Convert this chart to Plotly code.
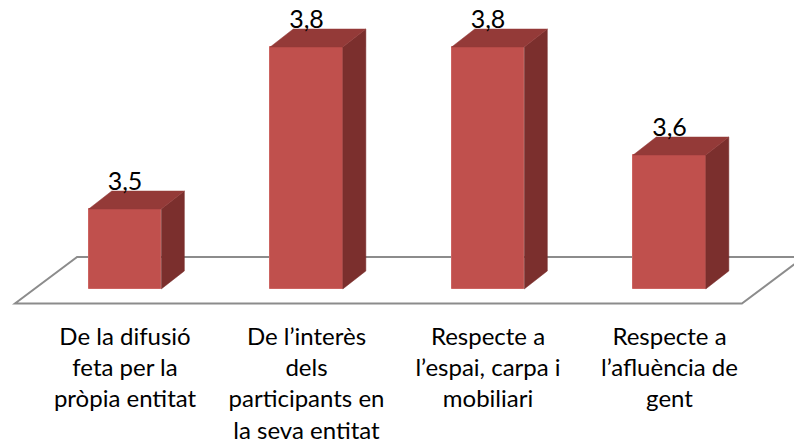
import plotly.graph_objects as go

categories = [
    "De la difusió<br>feta per la<br>pròpia entitat",
    "De l’interès<br>dels<br>participants en<br>la seva entitat",
    "Respecte a<br>l’espai, carpa i<br>mobiliari",
    "Respecte a<br>l’afluència de<br>gent",
]
values = [3.5, 3.8, 3.8, 3.6]
value_labels = ["3,5", "3,8", "3,8", "3,6"]

# geometry / style constants (not data)
BASE = 3.352      # value where bars start (axis floor)
HALF = 0.2        # half bar width in category units
DX = 0.127        # 3D depth offset, x (category units)
DY = 0.0333       # 3D depth offset, y (value units)
LABEL_OFF = 0.046
FRONT = "#C0504D"
TOP = "#943A38"
SIDE = "#7B2F2D"
FLOOR = "#8C8C8C"
FONT = "Lato"

xpos = list(range(len(values)))

fig = go.Figure()

# front faces
fig.add_trace(go.Bar(
    x=xpos, y=[v - BASE for v in values], base=BASE, width=2 * HALF,
    marker=dict(color=FRONT, line=dict(color="#CC6461", width=1)),
    hoverinfo="skip", showlegend=False,
))

# side and top faces computed from values
for i, v in enumerate(values):
    x1 = i + HALF
    x0 = i - HALF
    fig.add_trace(go.Scatter(
        x=[x1, x1 + DX, x1 + DX, x1, x1],
        y=[BASE, BASE + DY, v + DY, v, BASE],
        fill="toself", fillcolor=SIDE, mode="lines",
        line=dict(color=SIDE, width=0.5), hoverinfo="skip", showlegend=False,
    ))
    fig.add_trace(go.Scatter(
        x=[x0, x1, x1 + DX, x0 + DX, x0],
        y=[v, v, v + DY, v + DY, v],
        fill="toself", fillcolor=TOP, mode="lines",
        line=dict(color=TOP, width=0.5), hoverinfo="skip", showlegend=False,
    ))

# value labels
fig.add_trace(go.Scatter(
    x=xpos, y=[v + LABEL_OFF for v in values], text=value_labels,
    mode="text", textposition="middle center",
    textfont=dict(family=FONT, size=25, color="#000000"),
    hoverinfo="skip", showlegend=False, cliponaxis=False,
))

# floor (parallelogram) drawn below the bars
FL_FRONT_Y = 3.325
FL_BACK_Y = 3.411
FL_X0 = -0.606
FL_X1 = 3.399
FL_SHIFT = 0.342
fig.add_shape(
    type="path", layer="below", xref="x", yref="y",
    path=(f"M {FL_X0} {FL_FRONT_Y} L {FL_X1} {FL_FRONT_Y} "
          f"L {FL_X1 + FL_SHIFT} {FL_BACK_Y} L {FL_X0 + FL_SHIFT} {FL_BACK_Y} Z"),
    line=dict(color=FLOOR, width=2), fillcolor="rgba(0,0,0,0)",
)

fig.update_layout(
    width=794, height=447,
    margin=dict(l=0, r=0, t=0, b=137, autoexpand=False),
    paper_bgcolor="white", plot_bgcolor="white",
    xaxis=dict(
        range=[-0.6887, 3.686], tickvals=xpos, ticktext=categories,
        showgrid=False, zeroline=False, showline=False, ticks="",
        tickfont=dict(family=FONT, size=24, color="#000000"),
        ticklabelstandoff=10,
        fixedrange=True, automargin=False,
    ),
    yaxis=dict(
        range=[3.313, 3.887], visible=False, fixedrange=True, automargin=False,
    ),
    bargap=0,
)

fig.write_html(
    "out.html",
    config={"displayModeBar": False},
    post_script="document.body.style.margin='0';document.body.style.overflow='hidden';",
)
